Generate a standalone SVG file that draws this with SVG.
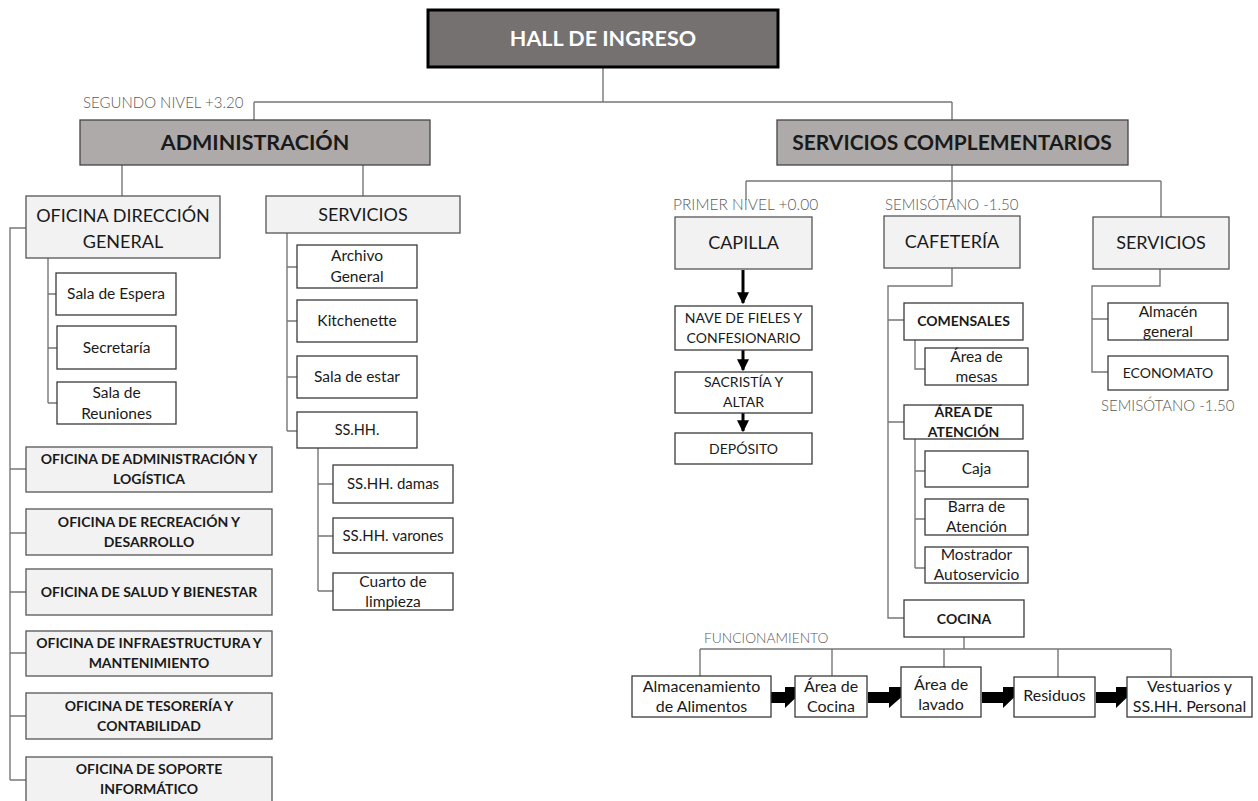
<svg xmlns="http://www.w3.org/2000/svg" width="1258" height="801" viewBox="0 0 1258 801">
<defs>
<style>
.t{font-family:Lato,"Liberation Sans",sans-serif;fill:#1a1a1a;text-anchor:middle}
.s14{font-size:14px}
.s15{font-size:15.5px}
.s16{font-size:16px}
.s18{font-size:18px}
.b{font-weight:bold}
.lbl{font-family:Lato,"Liberation Sans",sans-serif;font-weight:300;font-size:15px;fill:#5a5a5a}
.w{fill:#fff;stroke:#3a3a3a;stroke-width:1.3}
.g{fill:#f2f2f2;stroke:#555;stroke-width:1.3}
.m{fill:#aeaaaa;stroke:#444;stroke-width:1.3}
.c{fill:none;stroke:#777;stroke-width:1.4}
.ar{fill:none;stroke:#000;stroke-width:3}
.blk{fill:#000}
</style>
<marker id="ah" viewBox="0 0 10 10" refX="9" refY="5" markerWidth="4" markerHeight="4" orient="auto" markerUnits="strokeWidth">
<path d="M0,0 L10,5 L0,10 z" fill="#000"/>
</marker>
</defs>
<rect width="1258" height="801" fill="#fff"/>

<g id="connectors">
<path class="c" d="M603,67 V102 M254,102 H952 M254,102 V120 M952,102 V120"/>
<path class="c" d="M122,165 V196 M363,165 V196"/>
<path class="c" d="M26,228 H10 V780 M10,469 H26 M10,533 H26 M10,592 H26 M10,653 H26 M10,716 H26 M10,780 H26"/>
<path class="c" d="M48,258 V403 M48,294 H56 M48,348 H57 M48,403 H57"/>
<path class="c" d="M287,233 V431 M287,267 H297 M287,321 H297 M287,377 H297 M287,431 H297"/>
<path class="c" d="M318,448 V591 M318,484 H333 M318,536 H333 M318,591 H333"/>
<path class="c" d="M952,165 V200 M746,181 H1161 M746,181 V200 M1161,181 V217"/>
<path class="c" d="M952,268 V286 H888 V618 H904 M888,320 H904 M888,422 H904"/>
<path class="c" d="M915,340 V369 H925 M915,439 V568 M915,471 H925 M915,519 H925 M915,568 H925"/>
<path class="c" d="M1160,269 V286 H1092 V372 H1108 M1092,319 H1108"/>
<path class="c" d="M964,637 V649 M700,649 H1171 M700,649 V676 M832,649 V676 M944,649 V667 M1058,649 V677 M1171,649 V677"/>
<path class="ar" d="M743,270 V303" marker-end="url(#ah)"/>
<path class="ar" d="M743,350 V370" marker-end="url(#ah)"/>
<path class="ar" d="M743,413 V431" marker-end="url(#ah)"/>
<path class="blk" d="M768,692 H785 V687 H796 L796,697.5 L785,708 V703 H768 Z"/>
<path class="blk" d="M868,692 H889 V687 H901 L901,697.5 L889,708 V703 H868 Z"/>
<path class="blk" d="M982,692 H1003 V687 H1014 L1014,697.5 L1003,708 V703 H982 Z"/>
<path class="blk" d="M1096,692 H1116 V687 H1127 L1127,697.5 L1116,708 V703 H1096 Z"/>
</g>

<g id="labels">
<text class="lbl" x="83" y="108">SEGUNDO NIVEL +3.20</text>
<text class="lbl" x="673" y="210" style="font-size:15.5px">PRIMER NIVEL +0.00</text>
<text class="lbl" x="885" y="210">SEMISÓTANO -1.50</text>
<text class="lbl" x="1101" y="411">SEMISÓTANO -1.50</text>
<text class="lbl" x="704" y="643" style="font-size:13.8px">FUNCIONAMIENTO</text>
</g>

<g id="hall">
<rect x="428" y="10" width="350" height="57" fill="#767171" stroke="#000" stroke-width="3"/>
<text class="t b" x="603" y="46" style="font-size:21.5px;fill:#fff">HALL DE INGRESO</text>
</g>
<g id="administracion">
<rect class="m" x="80" y="120" width="350" height="45"/>
<text class="t b" x="255" y="150" style="font-size:21.5px">ADMINISTRACIÓN</text>
</g>
<g id="servicios-complementarios">
<rect class="m" x="777" y="120" width="351" height="45"/>
<text class="t b" x="952" y="150" style="font-size:21px">SERVICIOS COMPLEMENTARIOS</text>
</g>

<g id="oficina-direccion">
<rect class="g" x="26" y="196" width="194" height="62"/>
<text class="t s18" x="123" y="222">OFICINA DIRECCIÓN</text>
<text class="t s18" x="123" y="248">GENERAL</text>
</g>
<g id="servicios-admin">
<rect class="g" x="266" y="196" width="194" height="37"/>
<text class="t s18" x="363" y="221">SERVICIOS</text>
</g>

<g id="sala-espera"><rect class="w" x="56" y="273" width="120" height="42"/><text class="t s15" x="116" y="299">Sala de Espera</text></g>
<g id="secretaria"><rect class="w" x="57" y="326" width="119" height="43"/><text class="t s15" x="116.5" y="353">Secretaría</text></g>
<g id="sala-reuniones"><rect class="w" x="57" y="382" width="119" height="42"/><text class="t s15" x="116.5" y="398">Sala de</text><text class="t s15" x="116.5" y="419">Reuniones</text></g>

<g id="of-admin"><rect class="g" x="26" y="447" width="246" height="45"/><text class="t s14 b" x="149" y="464">OFICINA DE ADMINISTRACIÓN Y</text><text class="t s14 b" x="149" y="484">LOGÍSTICA</text></g>
<g id="of-recreacion"><rect class="g" x="26" y="509" width="246" height="46"/><text class="t s14 b" x="149" y="527">OFICINA DE RECREACIÓN Y</text><text class="t s14 b" x="149" y="547">DESARROLLO</text></g>
<g id="of-salud"><rect class="g" x="26" y="569" width="246" height="46"/><text class="t s14 b" x="149" y="597">OFICINA DE SALUD Y BIENESTAR</text></g>
<g id="of-infra"><rect class="g" x="26" y="631" width="246" height="45"/><text class="t s14 b" x="149" y="648">OFICINA DE INFRAESTRUCTURA Y</text><text class="t s14 b" x="149" y="668">MANTENIMIENTO</text></g>
<g id="of-tesoreria"><rect class="g" x="26" y="693" width="246" height="46"/><text class="t s14 b" x="149" y="711">OFICINA DE TESORERÍA Y</text><text class="t s14 b" x="149" y="731">CONTABILIDAD</text></g>
<g id="of-soporte"><rect class="g" x="26" y="757" width="246" height="46"/><text class="t s14 b" x="149" y="774">OFICINA DE SOPORTE</text><text class="t s14 b" x="149" y="794">INFORMÁTICO</text></g>

<g id="archivo"><rect class="w" x="297" y="245" width="120" height="43"/><text class="t s15" x="357" y="261">Archivo</text><text class="t s15" x="357" y="282">General</text></g>
<g id="kitchenette"><rect class="w" x="297" y="300" width="120" height="42"/><text class="t s15" x="357" y="326">Kitchenette</text></g>
<g id="sala-estar"><rect class="w" x="297" y="356" width="120" height="42"/><text class="t s15" x="357" y="382">Sala de estar</text></g>
<g id="sshh"><rect class="w" x="297" y="412" width="120" height="36"/><text class="t" x="357" y="435" style="font-size:14.5px">SS.HH.</text></g>
<g id="sshh-damas"><rect class="w" x="333" y="465" width="120" height="38"/><text class="t" x="393" y="489" style="font-size:15px">SS.HH. damas</text></g>
<g id="sshh-varones"><rect class="w" x="333" y="518" width="120" height="35"/><text class="t" x="393" y="541" style="font-size:15px">SS.HH. varones</text></g>
<g id="cuarto-limpieza"><rect class="w" x="333" y="573" width="120" height="37"/><text class="t s15" x="393" y="587">Cuarto de</text><text class="t s15" x="393" y="607">limpieza</text></g>

<g id="capilla"><rect class="g" x="675" y="217" width="137" height="52"/><text class="t s18" x="743.5" y="249">CAPILLA</text></g>
<g id="cafeteria"><rect class="g" x="884" y="216" width="136" height="52"/><text class="t s18" x="952" y="248">CAFETERÍA</text></g>
<g id="servicios-right"><rect class="g" x="1093" y="217" width="136" height="52"/><text class="t s18" x="1161" y="249">SERVICIOS</text></g>

<g id="nave"><rect class="w" x="675" y="306" width="137" height="44"/><text class="t s14" x="743.5" y="323">NAVE DE FIELES Y</text><text class="t s14" x="743.5" y="343">CONFESIONARIO</text></g>
<g id="sacristia"><rect class="w" x="675" y="372" width="137" height="41"/><text class="t s14" x="743.5" y="387">SACRISTÍA Y</text><text class="t s14" x="743.5" y="407">ALTAR</text></g>
<g id="deposito"><rect class="w" x="675" y="433" width="137" height="31"/><text class="t s14" x="743.5" y="454">DEPÓSITO</text></g>

<g id="comensales"><rect class="w" x="904" y="303" width="119" height="37"/><text class="t s14 b" x="963.5" y="326">COMENSALES</text></g>
<g id="area-mesas"><rect class="w" x="925" y="348" width="103" height="37"/><text class="t s15" x="976.5" y="362">Área de</text><text class="t s15" x="976.5" y="382">mesas</text></g>
<g id="area-atencion"><rect class="w" x="904" y="405" width="119" height="34"/><text class="t s14 b" x="963.5" y="417">ÁREA DE</text><text class="t s14 b" x="963.5" y="437">ATENCIÓN</text></g>
<g id="caja"><rect class="w" x="925" y="451" width="103" height="36"/><text class="t s15" x="976.5" y="474">Caja</text></g>
<g id="barra"><rect class="w" x="925" y="499" width="103" height="36"/><text class="t s15" x="976.5" y="512">Barra de</text><text class="t s15" x="976.5" y="532">Atención</text></g>
<g id="mostrador"><rect class="w" x="925" y="547" width="103" height="36"/><text class="t s15" x="976.5" y="560">Mostrador</text><text class="t s15" x="976.5" y="580">Autoservicio</text></g>
<g id="cocina"><rect class="w" x="904" y="600" width="120" height="37"/><text class="t s14 b" x="964" y="624">COCINA</text></g>

<g id="almacen"><rect class="w" x="1108" y="303" width="120" height="37"/><text class="t s15" x="1168" y="317">Almacén</text><text class="t s15" x="1168" y="337">general</text></g>
<g id="economato"><rect class="w" x="1108" y="356" width="120" height="34"/><text class="t s14" x="1168" y="378">ECONOMATO</text></g>

<g id="almacenamiento"><rect class="w" x="632" y="676" width="139" height="41"/><text class="t s16" x="701.5" y="692">Almacenamiento</text><text class="t s16" x="701.5" y="712">de Alimentos</text></g>
<g id="area-cocina"><rect class="w" x="795" y="676" width="72" height="41"/><text class="t s16" x="831" y="692">Área de</text><text class="t s16" x="831" y="712">Cocina</text></g>
<g id="area-lavado"><rect class="w" x="901" y="667" width="80" height="50"/><text class="t s16" x="941" y="690">Área de</text><text class="t s16" x="941" y="710">lavado</text></g>
<g id="residuos"><rect class="w" x="1014" y="677" width="81" height="40"/><text class="t s16" x="1054.5" y="701">Residuos</text></g>
<g id="vestuarios"><rect class="w" x="1127" y="677" width="125" height="40"/><text class="t s16" x="1189.5" y="692">Vestuarios y</text><text class="t s16" x="1189.5" y="712">SS.HH. Personal</text></g>
</svg>
